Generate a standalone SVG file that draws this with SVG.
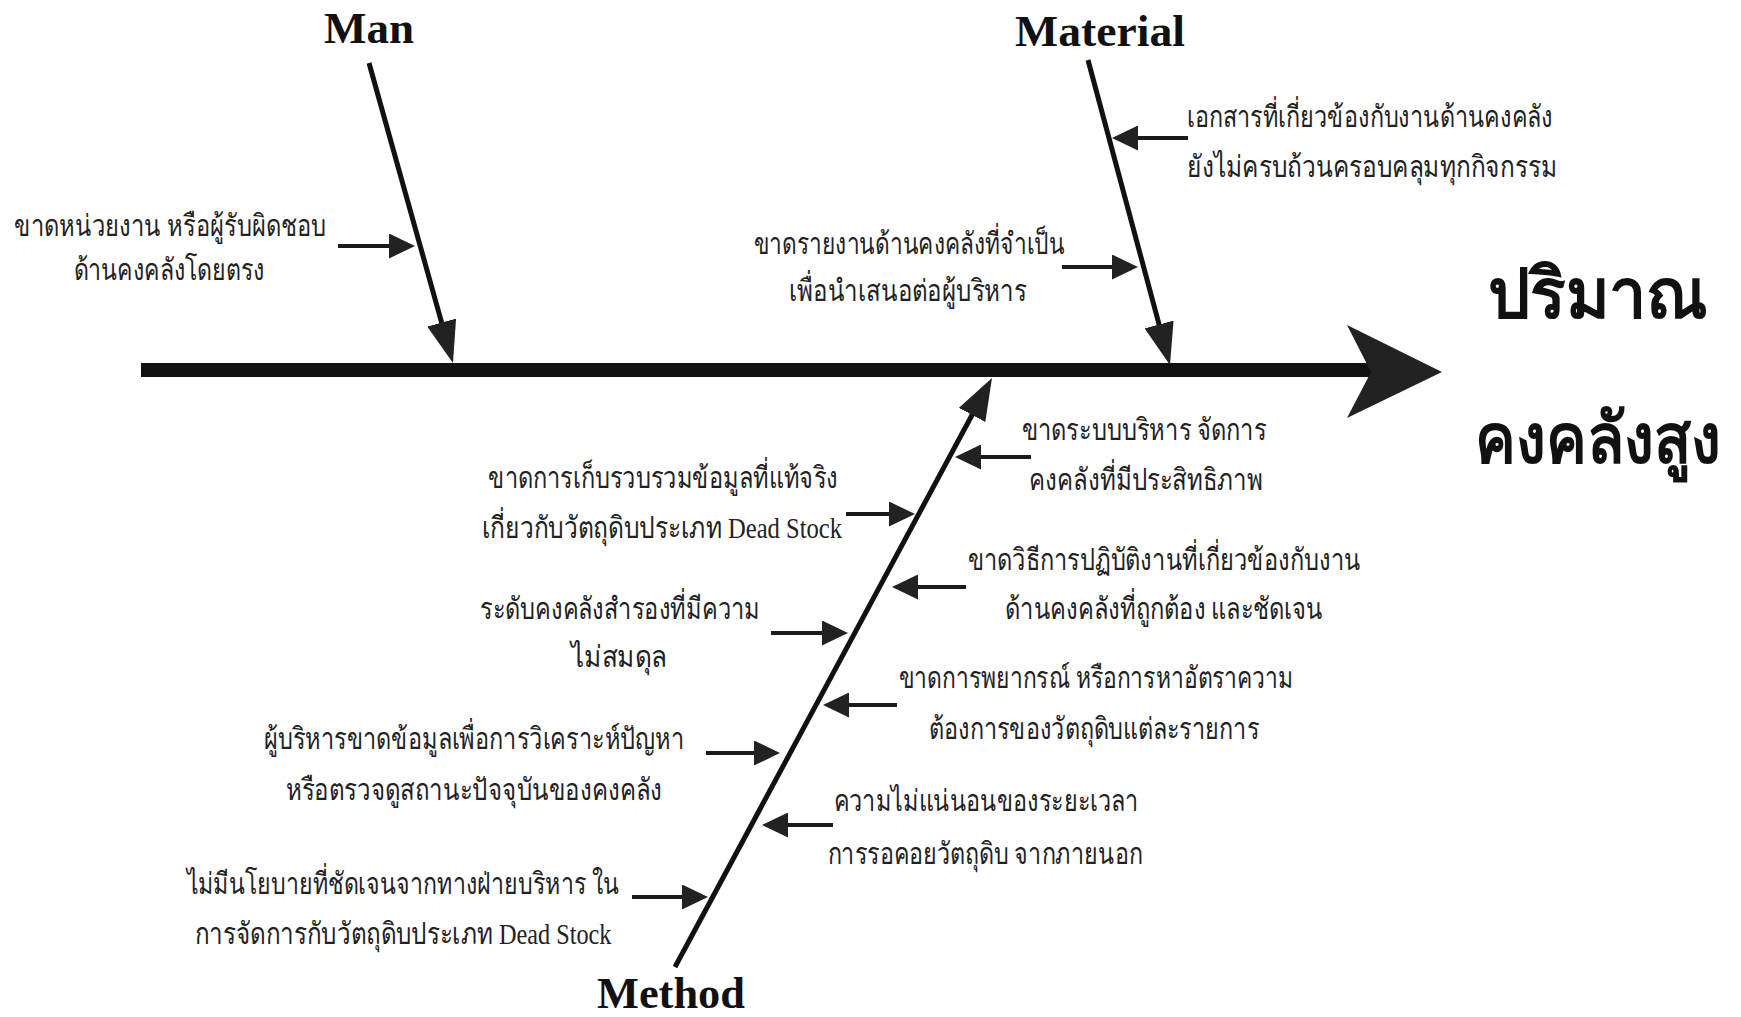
<svg xmlns="http://www.w3.org/2000/svg" width="1741" height="1017" viewBox="0 0 1741 1017">
  <style>
    .cat { font-family: "Liberation Serif", "Times New Roman", serif; font-weight: bold; font-size: 45px; fill: #111; text-anchor: middle; }
    .cause { font-family: "Liberation Serif", "Noto Sans", serif; font-size: 30px; fill: #222; text-anchor: middle; }
    .cause.l { text-anchor: start; }
    .effect { font-family: "Liberation Serif", "Noto Sans", serif; font-weight: bold; font-size: 70px; fill: #111; text-anchor: end; }
    .bone { stroke: #111; stroke-width: 5; fill: none; }
    .twig { stroke: #1a1a1a; stroke-width: 4; fill: none; }
    .spine { fill: #111; }
  </style>
  <defs>
    <marker id="boneHead" markerUnits="userSpaceOnUse" markerWidth="42" markerHeight="30" refX="34" refY="15" orient="auto">
      <path d="M0,0 L42,15 L0,30 Z" fill="#222"/>
    </marker>
    <marker id="twigHead" markerUnits="userSpaceOnUse" markerWidth="26" markerHeight="25" refX="20" refY="12.5" orient="auto">
      <path d="M0,0 L26,12.5 L0,25 Z" fill="#222"/>
    </marker>
  </defs>

  <rect width="1741" height="1017" fill="#fff"/>

  <!-- main spine and effect head -->
  <g id="spine">
    <rect class="spine" x="141" y="363" width="1234" height="14"/>
    <polygon points="1347,325 1442,372 1347,418 1371,372" fill="#222"/>
  </g>

  <!-- category bones and cause arrows -->
  <g id="connectors">
    <line class="bone" x1="369" y1="63" x2="450.8" y2="355.3" marker-end="url(#boneHead)"/>
    <line class="bone" x1="1088" y1="60" x2="1167.9" y2="357.3" marker-end="url(#boneHead)"/>
    <line class="bone" x1="675" y1="967" x2="988.2" y2="385" marker-end="url(#boneHead)"/>

    <line class="twig" x1="338" y1="246" x2="409" y2="246" marker-end="url(#twigHead)"/>
    <line class="twig" x1="1188" y1="138" x2="1118" y2="138" marker-end="url(#twigHead)"/>
    <line class="twig" x1="1062" y1="267" x2="1132" y2="267" marker-end="url(#twigHead)"/>

    <line class="twig" x1="1031" y1="457" x2="961" y2="457" marker-end="url(#twigHead)"/>
    <line class="twig" x1="846" y1="514" x2="909" y2="514" marker-end="url(#twigHead)"/>
    <line class="twig" x1="966" y1="587" x2="898" y2="587" marker-end="url(#twigHead)"/>
    <line class="twig" x1="771" y1="633" x2="842" y2="633" marker-end="url(#twigHead)"/>
    <line class="twig" x1="897" y1="705" x2="829" y2="705" marker-end="url(#twigHead)"/>
    <line class="twig" x1="706" y1="753" x2="774" y2="753" marker-end="url(#twigHead)"/>
    <line class="twig" x1="833" y1="825" x2="768" y2="825" marker-end="url(#twigHead)"/>
    <line class="twig" x1="632" y1="897" x2="702" y2="897" marker-end="url(#twigHead)"/>
  </g>

  <!-- category labels -->
  <g id="cat-man"><text class="cat" x="369" y="43" textLength="90" lengthAdjust="spacingAndGlyphs">Man</text></g>
  <g id="cat-material"><text class="cat" x="1100" y="46" textLength="170" lengthAdjust="spacingAndGlyphs">Material</text></g>
  <g id="cat-method"><text class="cat" x="671" y="1008" textLength="148" lengthAdjust="spacingAndGlyphs">Method</text></g>

  <!-- effect -->
  <g id="effect">
    <text class="effect" x="1708" y="318" textLength="220" lengthAdjust="spacingAndGlyphs">ปริมาณ</text>
    <text class="effect" x="1721" y="463" textLength="246" lengthAdjust="spacingAndGlyphs">คงคลังสูง</text>
  </g>

  <!-- causes: Man -->
  <g id="cause-man-1">
    <text class="cause" x="170" y="236" textLength="312" lengthAdjust="spacingAndGlyphs">ขาดหน่วยงาน หรือผู้รับผิดชอบ</text>
    <text class="cause" x="169" y="280" textLength="191" lengthAdjust="spacingAndGlyphs">ด้านคงคลังโดยตรง</text>
  </g>

  <!-- causes: Material -->
  <g id="cause-material-1">
    <text class="cause l" x="1187" y="127" textLength="366" lengthAdjust="spacingAndGlyphs">เอกสารที่เกี่ยวข้องกับงานด้านคงคลัง</text>
    <text class="cause l" x="1187" y="177" textLength="370" lengthAdjust="spacingAndGlyphs">ยังไม่ครบถ้วนครอบคลุมทุกกิจกรรม</text>
  </g>
  <g id="cause-material-2">
    <text class="cause" x="909" y="254" textLength="311" lengthAdjust="spacingAndGlyphs">ขาดรายงานด้านคงคลังที่จำเป็น</text>
    <text class="cause" x="908" y="301" textLength="238" lengthAdjust="spacingAndGlyphs">เพื่อนำเสนอต่อผู้บริหาร</text>
  </g>

  <!-- causes: Method -->
  <g id="cause-method-1">
    <text class="cause" x="1144" y="440" textLength="245" lengthAdjust="spacingAndGlyphs">ขาดระบบบริหาร จัดการ</text>
    <text class="cause" x="1146" y="490" textLength="234" lengthAdjust="spacingAndGlyphs">คงคลังที่มีประสิทธิภาพ</text>
  </g>
  <g id="cause-method-2">
    <text class="cause" x="663" y="488" textLength="350" lengthAdjust="spacingAndGlyphs">ขาดการเก็บรวบรวมข้อมูลที่แท้จริง</text>
    <text class="cause" x="662" y="538" textLength="360" lengthAdjust="spacingAndGlyphs">เกี่ยวกับวัตถุดิบประเภท Dead Stock</text>
  </g>
  <g id="cause-method-3">
    <text class="cause" x="1164" y="570" textLength="393" lengthAdjust="spacingAndGlyphs">ขาดวิธีการปฏิบัติงานที่เกี่ยวข้องกับงาน</text>
    <text class="cause" x="1164" y="619" textLength="318" lengthAdjust="spacingAndGlyphs">ด้านคงคลังที่ถูกต้อง และชัดเจน</text>
  </g>
  <g id="cause-method-4">
    <text class="cause" x="620" y="619" textLength="280" lengthAdjust="spacingAndGlyphs">ระดับคงคลังสำรองที่มีความ</text>
    <text class="cause" x="619" y="667" textLength="96" lengthAdjust="spacingAndGlyphs">ไม่สมดุล</text>
  </g>
  <g id="cause-method-5">
    <text class="cause" x="1096" y="688" textLength="395" lengthAdjust="spacingAndGlyphs">ขาดการพยากรณ์ หรือการหาอัตราความ</text>
    <text class="cause" x="1094" y="739" textLength="330" lengthAdjust="spacingAndGlyphs">ต้องการของวัตถุดิบแต่ละรายการ</text>
  </g>
  <g id="cause-method-6">
    <text class="cause" x="474" y="749" textLength="421" lengthAdjust="spacingAndGlyphs">ผู้บริหารขาดข้อมูลเพื่อการวิเคราะห์ปัญหา</text>
    <text class="cause" x="474" y="800" textLength="377" lengthAdjust="spacingAndGlyphs">หรือตรวจดูสถานะปัจจุบันของคงคลัง</text>
  </g>
  <g id="cause-method-7">
    <text class="cause" x="986" y="811" textLength="305" lengthAdjust="spacingAndGlyphs">ความไม่แน่นอนของระยะเวลา</text>
    <text class="cause" x="985" y="864" textLength="315" lengthAdjust="spacingAndGlyphs">การรอคอยวัตถุดิบ จากภายนอก</text>
  </g>
  <g id="cause-method-8">
    <text class="cause" x="403" y="894" textLength="433" lengthAdjust="spacingAndGlyphs">ไม่มีนโยบายที่ชัดเจนจากทางฝ่ายบริหาร ใน</text>
    <text class="cause" x="403" y="944" textLength="417" lengthAdjust="spacingAndGlyphs">การจัดการกับวัตถุดิบประเภท Dead Stock</text>
  </g>
</svg>
